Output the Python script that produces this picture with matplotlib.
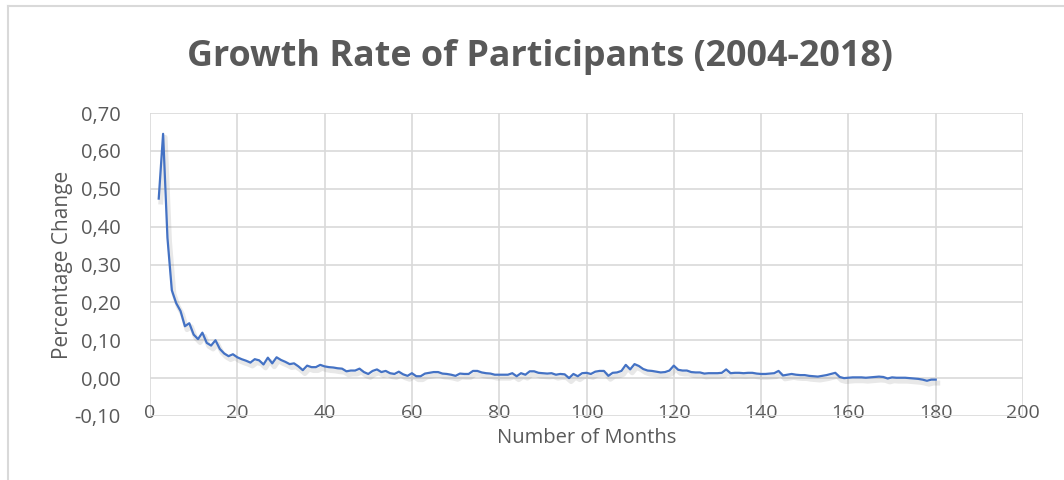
import matplotlib
matplotlib.use("Agg")
import matplotlib.pyplot as plt
import matplotlib.patheffects as pe
from matplotlib.lines import Line2D
from matplotlib.ticker import FuncFormatter

months = list(range(2, 181))
growth = [
    0.474, 0.645, 0.370, 0.232, 0.198, 0.177, 0.137, 0.145, 0.115, 0.103,   # 2-11
    0.120, 0.093, 0.086, 0.100, 0.077, 0.065, 0.058, 0.063, 0.055, 0.050,   # 12-21
    0.046, 0.041, 0.050, 0.047, 0.036, 0.054, 0.039, 0.055, 0.048, 0.043,   # 22-31
    0.037, 0.039, 0.031, 0.021, 0.033, 0.029, 0.029, 0.035, 0.031, 0.029,   # 32-41
    0.028, 0.026, 0.025, 0.018, 0.020, 0.020, 0.025, 0.016, 0.011, 0.019,   # 42-51
    0.023, 0.016, 0.019, 0.013, 0.011, 0.017, 0.010, 0.006, 0.013, 0.005,   # 52-61
    0.005, 0.012, 0.014, 0.016, 0.016, 0.012, 0.011, 0.009, 0.006, 0.012,   # 62-71
    0.011, 0.011, 0.019, 0.019, 0.015, 0.013, 0.012, 0.009, 0.009, 0.009,   # 72-81
    0.009, 0.013, 0.005, 0.013, 0.009, 0.018, 0.018, 0.014, 0.013, 0.012,   # 82-91
    0.013, 0.009, 0.011, 0.010, 0.000, 0.011, 0.005, 0.013, 0.014, 0.011,   # 92-101
    0.017, 0.019, 0.019, 0.006, 0.014, 0.015, 0.019, 0.035, 0.023, 0.037,   # 102-111
    0.032, 0.024, 0.020, 0.019, 0.017, 0.015, 0.016, 0.020, 0.033, 0.022,   # 112-121
    0.020, 0.020, 0.016, 0.015, 0.015, 0.012, 0.013, 0.013, 0.013, 0.014,   # 122-131
    0.023, 0.013, 0.014, 0.014, 0.013, 0.014, 0.014, 0.012, 0.011, 0.011,   # 132-141
    0.012, 0.013, 0.019, 0.007, 0.009, 0.011, 0.009, 0.008, 0.008, 0.006,   # 142-151
    0.005, 0.004, 0.006, 0.008, 0.011, 0.014, 0.003, 0.000, 0.001, 0.002,   # 152-161
    0.002, 0.002, 0.001, 0.002, 0.003, 0.004, 0.003, -0.001, 0.002, 0.001, # 162-171
    0.001, 0.001, 0.000, -0.001, -0.002, -0.004, -0.007, -0.004, -0.004,    # 172-180
]
assert len(growth) == len(months)

x_ticks = list(range(0, 201, 20))
y_ticks = [-0.10, 0.00, 0.10, 0.20, 0.30, 0.40, 0.50, 0.60, 0.70]

title = "Growth Rate of Participants (2004-2018)"
x_label = "Number of Months"
y_label = "Percentage Change"

TEXT = "#595959"
GRID = "#D9D9D9"
LINE = "#4472C4"

fig = plt.figure(figsize=(10.64, 4.8), dpi=100)
W, H = 1064, 480
ax = fig.add_axes([150 / W, 1 - 416 / H, (1023 - 150) / W, (416 - 113) / H])

ax.plot(months, growth, color=LINE, lw=1.6, zorder=3,
        path_effects=[pe.SimpleLineShadow(offset=(1.5, -2.5), shadow_color="#808080", alpha=0.18, linewidth=3.5),
                      pe.Normal()])

ax.set_xlim(0, 200)
ax.set_ylim(-0.10, 0.70)
ax.set_xticks(x_ticks)
ax.set_yticks(y_ticks)
ax.yaxis.set_major_formatter(FuncFormatter(lambda v, p: f"{v:.2f}".replace(".", ",").replace("-0,00", "0,00")))
ax.grid(True, color=GRID, lw=1.2, zorder=0)
ax.set_axisbelow(True)
for s in ax.spines.values():
    s.set_visible(False)

ax.tick_params(axis="y", length=0, pad=21, labelsize=14.5, labelcolor=TEXT)
ax.tick_params(axis="x", length=0, pad=-9, labelsize=14, labelcolor=TEXT)
for lab in ax.get_yticklabels():
    lab.set_fontfamily("Open Sans")
for lab in ax.get_xticklabels():
    lab.set_fontfamily("Open Sans")
    lab.set_verticalalignment("top")

ax.set_xlabel(x_label, fontsize=14.5, color=TEXT, family="Open Sans", va="center")
ax.xaxis.set_label_coords(0.5, (416 - 438) / (416 - 113))
ax.set_ylabel(y_label, fontsize=15, color=TEXT, family="Open Sans", labelpad=1)

fig.text(540 / W, 1 - 57 / H, title, ha="center", va="center", fontsize=25.8,
         fontweight="bold", color=TEXT, family="Open Sans")

# chart outer border (top and left edges visible)
fig.add_artist(Line2D([8 / W, 1.0], [1 - 6 / H, 1 - 6 / H], color=GRID, lw=1.5, transform=fig.transFigure))
fig.add_artist(Line2D([8 / W, 8 / W], [0.0, 1 - 6 / H], color=GRID, lw=1.5, transform=fig.transFigure))

fig.savefig("out.png", dpi=100, facecolor="white")
